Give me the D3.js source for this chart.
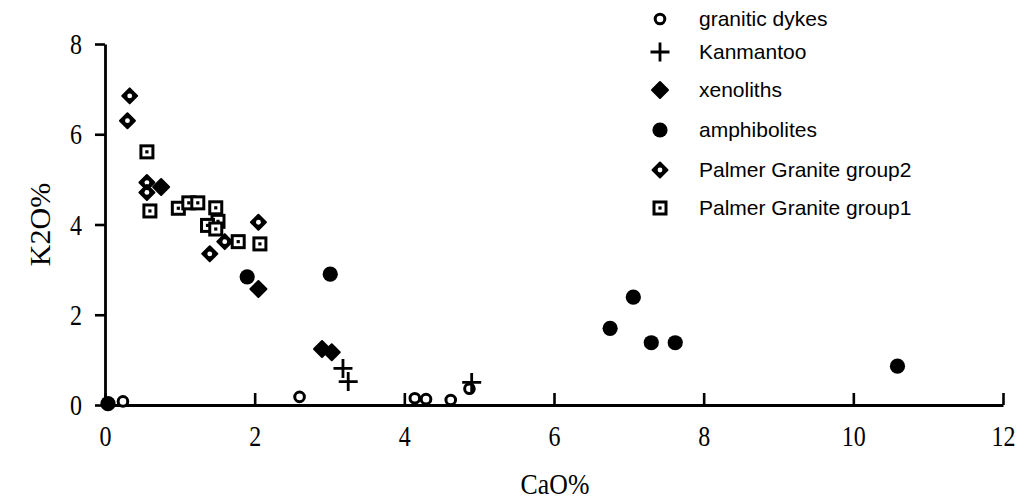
<!DOCTYPE html>
<html>
<head>
<meta charset="utf-8">
<script src="https://cdn.jsdelivr.net/npm/d3@7/dist/d3.min.js"></script>
<style>
  html, body { margin: 0; padding: 0; background: #fff; }
  svg { display: block; }
</style>
</head>
<body>
<svg id="chart" width="1029" height="502"></svg>
<script>
// CaO% vs K2O% for the rock groups, one [CaO, K2O] pair per sample
const graniticDykes = [[0.24, 0.08], [2.60, 0.18], [4.14, 0.15], [4.29, 0.13], [4.62, 0.11], [4.87, 0.36]];
const kanmantoo = [[3.18, 0.81], [3.25, 0.52], [4.90, 0.50]];
const xenoliths = [[0.75, 4.83], [2.05, 2.57], [2.90, 1.24], [3.03, 1.17]];
const amphibolites = [[0.04, 0.03], [1.90, 2.84], [3.01, 2.90], [6.75, 1.70], [7.06, 2.39], [7.30, 1.38], [7.62, 1.38], [10.59, 0.86]];
const palmerGroup2 = [[0.33, 6.85], [0.30, 6.30], [0.56, 4.93], [0.56, 4.71], [1.40, 3.35], [1.60, 3.62], [2.05, 4.05]];
const palmerGroup1 = [[0.56, 5.61], [0.60, 4.30], [0.98, 4.36], [1.12, 4.48], [1.24, 4.48], [1.48, 4.37], [1.51, 4.07], [1.37, 3.98], [1.48, 3.90], [1.78, 3.62], [2.07, 3.57]];

const seriesNames = ["granitic dykes", "Kanmantoo", "xenoliths", "amphibolites", "Palmer Granite group2", "Palmer Granite group1"];
const xTicks = [0, 2, 4, 6, 8, 10, 12];
const yTicks = [0, 2, 4, 6, 8];
const xTitle = "CaO%";
const yTitle = "K2O%";

const series = [
  { name: seriesNames[0], symbol: "openCircle", data: graniticDykes },
  { name: seriesNames[1], symbol: "plus", data: kanmantoo },
  { name: seriesNames[2], symbol: "diamond", data: xenoliths },
  { name: seriesNames[3], symbol: "dot", data: amphibolites },
  { name: seriesNames[4], symbol: "dottedDiamond", data: palmerGroup2 },
  { name: seriesNames[5], symbol: "dottedSquare", data: palmerGroup1 }
];

const svg = d3.select("#chart");
const serif = "'Liberation Serif', 'Times New Roman', serif";
const sans = "'Liberation Sans', Arial, Helvetica, sans-serif";
const narrow = 0.8; // horizontal squeeze for the serif labels

const x = d3.scaleLinear().domain([0, 12]).range([105, 1003]);
const y = d3.scaleLinear().domain([0, 8]).range([405, 44]);

// axes
const xAxis = svg.append("g")
  .attr("transform", `translate(0,${y(0)})`)
  .call(d3.axisBottom(x).tickValues(xTicks).tickFormat(d3.format("d"))
    .tickSizeInner(-12).tickSizeOuter(0).tickPadding(20));
const yAxis = svg.append("g")
  .attr("transform", `translate(${x(0)},0)`)
  .call(d3.axisLeft(y).tickValues(yTicks).tickFormat(d3.format("d"))
    .tickSizeInner(10).tickSizeOuter(0).tickPadding(13));

[xAxis, yAxis].forEach(g => {
  g.select(".domain").attr("stroke", "#000").attr("stroke-width", 2.8);
  g.selectAll(".tick line").attr("stroke", "#000").attr("stroke-width", 2.6);
  g.selectAll(".tick text").attr("fill", "#000")
    .style("font-family", serif).style("font-size", "30px");
});
xAxis.selectAll(".tick text")
  .attr("transform", `scale(${narrow},1)`);
yAxis.selectAll(".tick text")
  .attr("x", -23 / narrow)
  .attr("transform", `scale(${narrow},1)`);

svg.append("text")
  .attr("transform", `translate(555,494) scale(${narrow + 0.06},1)`)
  .attr("text-anchor", "middle")
  .style("font-family", serif).style("font-size", "30px")
  .text(xTitle);

svg.append("text")
  .attr("transform", `translate(50,${y(4)}) rotate(-90)`)
  .attr("text-anchor", "middle")
  .style("font-family", serif).style("font-size", "30px")
  .text(yTitle);

// marker glyphs
function drawSymbol(g, kind) {
  switch (kind) {
    case "openCircle":
      g.append("circle").attr("r", 4.8).attr("fill", "#fff")
        .attr("stroke", "#000").attr("stroke-width", 3);
      break;
    case "plus":
      g.append("path").attr("d", "M-9.5,0H9.5M0,-9.5V9.5")
        .attr("stroke", "#000").attr("stroke-width", 2.8).attr("fill", "none");
      break;
    case "diamond":
      g.append("path").attr("d", "M0,-8L8,0L0,8L-8,0Z")
        .attr("fill", "#000").attr("stroke", "#000")
        .attr("stroke-width", 2).attr("stroke-linejoin", "round");
      break;
    case "dot":
      g.append("circle").attr("r", 7.6).attr("fill", "#000");
      break;
    case "dottedDiamond":
      g.append("path").attr("d", "M0,-7.5L7.5,0L0,7.5L-7.5,0Z")
        .attr("fill", "#000").attr("stroke", "#000")
        .attr("stroke-width", 2).attr("stroke-linejoin", "round");
      g.append("circle").attr("r", 2.4).attr("fill", "#fff");
      break;
    case "dottedSquare":
      g.append("rect").attr("x", -6).attr("y", -6).attr("width", 12).attr("height", 12)
        .attr("fill", "#fff").attr("stroke", "#000").attr("stroke-width", 3);
      g.append("rect").attr("x", -1.6).attr("y", -1.6).attr("width", 3.2).attr("height", 3.2)
        .attr("fill", "#000");
      break;
  }
}

// data points
series.forEach(s => {
  svg.append("g").attr("class", "series")
    .selectAll("g")
    .data(s.data)
    .join("g")
    .attr("transform", d => `translate(${x(d[0])},${y(d[1])})`)
    .each(function () { drawSymbol(d3.select(this), s.symbol); });
});

// legend
const legendRows = [19, 52, 90, 130, 170, 208];
const legend = svg.append("g");
series.forEach((s, i) => {
  const row = legend.append("g").attr("transform", `translate(660,${legendRows[i]})`);
  drawSymbol(row, s.symbol);
  row.append("text")
    .attr("x", 39).attr("dy", "0.35em")
    .style("font-family", sans).style("font-size", "21px")
    .text(s.name);
});
</script>
</body>
</html>
